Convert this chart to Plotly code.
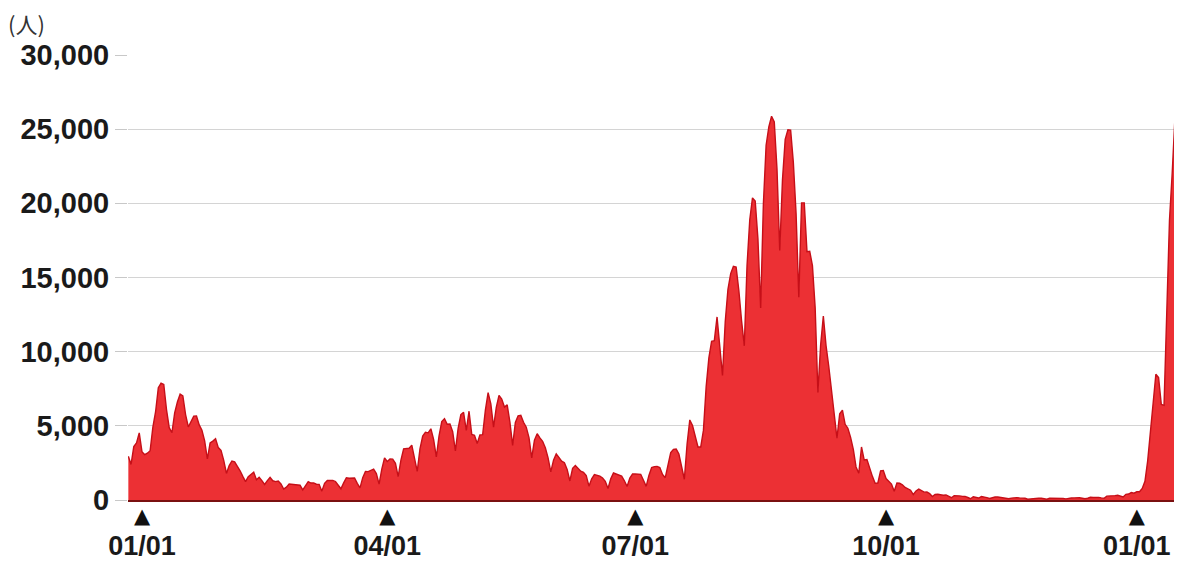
import pandas as pd
import plotly.graph_objects as go

# Daily new cases (people)
dec_2020 = [2947, 2395, 3604, 3852, 4520]  # Dec 27-31
jan_2021 = [3258, 3059, 3158, 3325, 4915, 5950, 7570, 7882, 7790, 6094,
            4876, 4536, 5875, 6604, 7133, 7014, 5759, 4925, 5320, 5654,
            5660, 5061, 4708, 3988, 2764, 3853, 3973, 4133, 3534, 3343, 2673]
feb_2021 = [1792, 2324, 2631, 2576, 2282, 1970, 1595, 1239, 1569, 1731,
            1879, 1359, 1532, 1310, 1046, 1304, 1527, 1296, 1237, 1277,
            1083, 740, 867, 1081, 1054, 1010, 996, 993]
mar_2021 = [686, 991, 1237, 1145, 1149, 1065, 1057, 597, 1127, 1315,
            1303, 1320, 1250, 986, 757, 1151, 1497, 1467, 1473, 1486,
            1118, 815, 1507, 1919, 1915, 2012, 2081, 1783, 1072, 2081, 2843]
apr_2021 = [2599, 2765, 2755, 2471, 1569, 2666, 3449, 3456, 3489, 3697,
            2778, 1927, 3446, 4312, 4573, 4528, 4800, 4091, 2900, 4324,
            5289, 5487, 5110, 5119, 4607, 3313, 4833, 5762, 5909, 4684]
may_2021 = [5986, 4420, 4355, 3805, 4390, 4405, 6057, 7244, 6477, 4916,
            6245, 7057, 6812, 6266, 6415, 5247, 3681, 5232, 5675, 5706,
            5237, 4910, 4204, 2836, 4040, 4472, 4187, 3958, 3526, 2838, 1893]
jun_2021 = [2688, 3107, 2885, 2622, 2516, 2065, 1283, 2141, 2322, 2131,
            1938, 1873, 1649, 935, 1425, 1713, 1660, 1605, 1482, 1254,
            778, 1426, 1821, 1748, 1636, 1609, 1300, 914, 1478, 1755]
jul_2021 = [1755, 1754, 1731, 1336, 918, 1655, 2190, 2247, 2262, 2187,
            1722, 1504, 2385, 3194, 3418, 3432, 3100, 2332, 1399, 3757,
            5397, 5020, 4225, 3574, 3574, 4692, 7629, 9576, 10693, 10744, 12341]
aug_2021 = [10166, 8393, 12016, 14207, 15263, 15753, 15700, 14124, 12074, 10393,
            15809, 18889, 20365, 20151, 17603, 12949, 19955, 23917, 25156, 25868,
            25492, 22288, 16817, 21567, 24314, 24956, 24936, 22748, 19298, 13665, 20030]
sep_2021 = [20031, 16745, 16767, 15808, 12951, 7246, 10441, 12396, 10393, 9000,
            7228, 5756, 4171, 5816, 6052, 5101, 4839, 4226, 3411, 2228,
            1800, 3576, 2695, 2727, 2097, 1593, 1128, 1147, 1970, 1986]
oct_2021 = [1444, 1233, 1072, 593, 1143, 1128, 1026, 844, 775, 658,
            369, 612, 734, 624, 529, 537, 429, 232, 372, 389,
            345, 325, 340, 262, 155, 290, 300, 277, 246, 239, 167]
nov_2021 = [86, 218, 160, 133, 229, 212, 162, 105, 160, 205,
            206, 186, 161, 148, 81, 130, 168, 162, 142, 132,
            117, 50, 78, 104, 109, 113, 119, 98, 56, 120]
dec_2021 = [125, 127, 118, 124, 102, 74, 115, 137, 142, 159,
            156, 120, 87, 118, 181, 173, 198, 174, 142, 118,
            259, 256, 283, 298, 319, 262, 209, 384, 401, 504, 460]
jan_2022 = [555, 553, 782, 1265, 2638, 4475, 6214, 8480, 8249, 6438,
            6377, 13244, 18860, 22045, 25742, 25631]

start_date = "2020-12-27"
tick_dates = ["2021-01-01", "2021-04-01", "2021-07-01", "2021-10-01", "2022-01-01"]
tick_labels = ["01/01", "04/01", "07/01", "10/01", "01/01"]
y_ticks = [0, 5000, 10000, 15000, 20000, 25000, 30000]
y_tick_labels = ["0", "5,000", "10,000", "15,000", "20,000", "25,000", "30,000"]

values = (dec_2020 + jan_2021 + feb_2021 + mar_2021 + apr_2021 + may_2021 + jun_2021
          + jul_2021 + aug_2021 + sep_2021 + oct_2021 + nov_2021 + dec_2021 + jan_2022)
dates = pd.date_range(start_date, periods=len(values), freq="D")

x_range = ["2020-12-26 21:00", "2022-01-16 03:00"]

fig = go.Figure()
fig.add_trace(go.Scatter(
    x=dates, y=values, mode="lines", fill="tozeroy",
    line=dict(color="#c60f18", width=1.4),
    fillcolor="#ec3034", hoverinfo="x+y",
))
# invisible copy bound to the label axis so that it gets drawn
fig.add_trace(go.Scatter(
    x=dates, y=values, xaxis="x2", mode="lines",
    line=dict(width=0), opacity=0, hoverinfo="skip",
))

font_family = "Liberation Sans, Arial, sans-serif"
fig.update_layout(
    width=1174, height=555,
    margin=dict(l=120, r=4, t=47, b=63),
    paper_bgcolor="white", plot_bgcolor="white",
    showlegend=False,
    font=dict(family=font_family, color="#1a1a1a"),
    xaxis=dict(
        range=x_range,
        tickmode="array",
        tickvals=tick_dates,
        ticktext=["▲" for _ in tick_labels],
        tickfont=dict(size=21, family="DejaVu Sans", color="#111"),
        ticklabelstandoff=-4,
        showgrid=False, ticks="", showline=True, linecolor="#7a1010", linewidth=2,
        zeroline=False, automargin=False,
    ),
    xaxis2=dict(
        range=x_range, overlaying="x", anchor="y", side="bottom",
        tickmode="array",
        tickvals=tick_dates,
        ticktext=["<b>%s</b>" % t for t in tick_labels],
        tickfont=dict(size=27, family=font_family, color="#1a1a1a"),
        ticks="outside", ticklen=22, tickcolor="rgba(0,0,0,0)",
        showgrid=False, showline=False, zeroline=False, automargin=False,
    ),
    yaxis=dict(
        range=[0, 30000],
        tickmode="array",
        tickvals=y_ticks,
        ticktext=["<b>%s</b>" % t for t in y_tick_labels],
        tickfont=dict(size=29, family=font_family, color="#1a1a1a"),
        showgrid=True, gridcolor="#d4d4d4", gridwidth=1,
        ticks="outside", ticklen=12, tickcolor="#c8c8c8", tickwidth=1,
        zeroline=False, showline=False, automargin=False,
    ),
    annotations=[dict(
        text="(人)", xref="paper", yref="paper", x=-0.116, y=1.072,
        xanchor="left", yanchor="middle", showarrow=False,
        font=dict(size=22, family="Noto Sans CJK JP", color="#333"),
    )],
)

fig.write_html("out.html")
